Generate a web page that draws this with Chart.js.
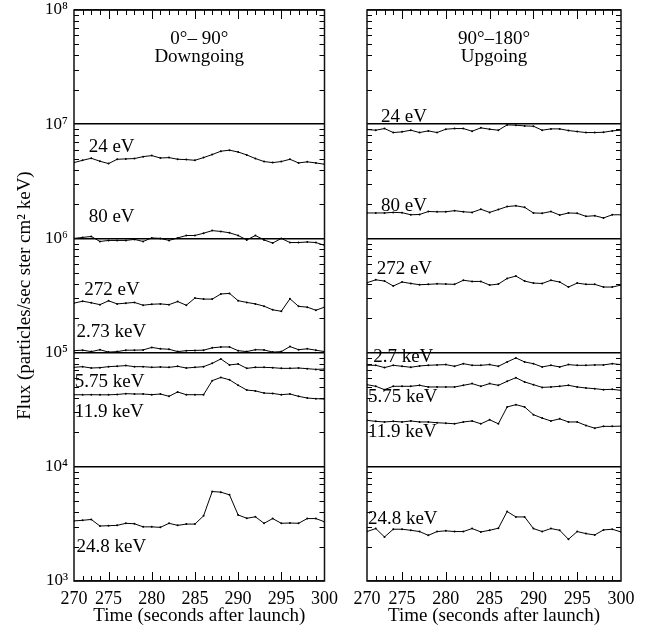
<!DOCTYPE html>
<html>
<head>
<meta charset="utf-8">
<script src="https://cdn.jsdelivr.net/npm/chart.js@4.4.1/dist/chart.umd.min.js"></script>
<style>
html, body { margin: 0; padding: 0; background: #fff; }
#wrap { position: relative; width: 650px; height: 632px; }
canvas { position: absolute; top: 0; }
#left { left: 0; }
#right { left: 345px; }
</style>
</head>
<body>
<div id="wrap">
  <canvas id="left" width="345" height="632" style="width:345px;height:632px"></canvas>
  <canvas id="right" width="305" height="632" style="width:305px;height:632px"></canvas>
</div>
<script>
// data
const times = [271, 272, 273, 274, 275, 276, 277, 278, 279, 280, 281, 282, 283, 284, 285,
               286, 287, 288, 289, 290, 291, 292, 293, 294, 295, 296, 297, 298, 299, 300];

const xTickValues = [271, 275, 280, 285, 290, 295, 300];
const xTickLabels = ['270', '275', '280', '285', '290', '295', '300'];
const yDecades = [1e3, 1e4, 1e5, 1e6, 1e7, 1e8];
const yTickLabels = ['10³', '10⁴', '10⁵', '10⁶', '10⁷', '10⁸'];

// 0-90 downgoing
const down24eV = [4.61e6, 4.83e6, 5.03e6, 4.74e6, 4.52e6, 4.93e6, 4.97e6, 5.0e6, 5.2e6, 5.31e6,
                  5.06e6, 5.1e6, 4.93e6, 4.9e6, 4.83e6, 5.1e6, 5.42e6, 5.8e6, 5.92e6, 5.71e6,
                  5.38e6, 5.0e6, 4.71e6, 4.61e6, 4.71e6, 4.93e6, 4.58e6, 4.68e6, 4.58e6, 4.46e6];
const down80eV = [1.0e6, 1.02e6, 1.04e6, 0.94e6, 0.96e6, 0.96e6, 0.96e6, 0.98e6, 0.94e6, 1.01e6,
                  1.0e6, 0.96e6, 1.01e6, 1.06e6, 1.06e6, 1.11e6, 1.17e6, 1.15e6, 1.12e6, 1.06e6,
                  0.97e6, 1.06e6, 0.97e6, 0.91e6, 1.0e6, 0.92e6, 0.92e6, 0.93e6, 0.92e6, 0.87e6];
const down272eV = [2.71e5, 2.82e5, 2.73e5, 2.63e5, 2.84e5, 2.67e5, 2.71e5, 2.75e5, 2.6e5, 2.65e5,
                   2.67e5, 2.63e5, 2.8e5, 2.6e5, 3.0e5, 2.94e5, 2.94e5, 3.26e5, 3.3e5, 2.85e5,
                   2.75e5, 2.67e5, 2.55e5, 2.37e5, 2.3e5, 2.96e5, 2.54e5, 2.5e5, 2.35e5, 2.5e5];
const down2p73keV = [1.04e5, 1.05e5, 1.02e5, 1.06e5, 1.01e5, 1.02e5, 1.05e5, 1.05e5, 1.055e5, 1.11e5,
                     1.08e5, 1.07e5, 1.02e5, 1.04e5, 1.045e5, 1.05e5, 1.1e5, 1.12e5, 1.12e5, 1.04e5,
                     1.02e5, 1.06e5, 1.055e5, 1.01e5, 1.02e5, 1.13e5, 1.06e5, 1.08e5, 1.05e5, 1.02e5];
const down5p75keV = [7.43e4, 7.53e4, 7.33e4, 7.38e4, 7.53e4, 7.6e4, 7.7e4, 7.53e4, 7.53e4, 7.43e4,
                     7.48e4, 7.43e4, 7.58e4, 7.33e4, 7.43e4, 7.53e4, 8.05e4, 8.8e4, 7.8e4, 7.95e4,
                     7.28e4, 7.43e4, 7.43e4, 7.38e4, 7.28e4, 7.28e4, 7.33e4, 7.23e4, 7.13e4, 7.18e4];
const down11p9keV = [4.28e4, 4.27e4, 4.28e4, 4.27e4, 4.27e4, 4.3e4, 4.37e4, 4.34e4, 4.34e4, 4.28e4,
                     4.34e4, 4.14e4, 4.52e4, 4.28e4, 4.28e4, 4.28e4, 5.68e4, 6.06e4, 5.78e4, 5.18e4,
                     4.7e4, 4.62e4, 4.42e4, 4.39e4, 4.28e4, 4.34e4, 4.14e4, 4.0e4, 3.95e4, 3.92e4];
const down24p8keV = [3.36e3, 3.4e3, 3.46e3, 3.03e3, 3.05e3, 3.07e3, 3.2e3, 3.17e3, 2.98e3, 2.98e3,
                     2.95e3, 3.2e3, 3.07e3, 3.15e3, 3.15e3, 3.72e3, 6.07e3, 6.0e3, 5.68e3, 3.79e3,
                     3.54e3, 3.65e3, 3.2e3, 3.52e3, 3.2e3, 3.22e3, 3.2e3, 3.52e3, 3.52e3, 3.3e3];

// 90-180 upgoing
const up24eV = [8.98e6, 8.86e6, 9.16e6, 8.45e6, 8.57e6, 8.86e6, 8.45e6, 8.74e6, 8.45e6, 9.04e6,
                9.16e6, 9.16e6, 8.68e6, 9.29e6, 9.04e6, 8.86e6, 9.86e6, 9.8e6, 9.66e6, 9.6e6,
                8.86e6, 9.1e6, 9.1e6, 8.8e6, 8.62e6, 8.45e6, 8.45e6, 8.5e6, 8.74e6, 8.86e6];
const up80eV = [1.67e6, 1.67e6, 1.67e6, 1.69e6, 1.68e6, 1.61e6, 1.62e6, 1.72e6, 1.71e6, 1.71e6,
                1.75e6, 1.71e6, 1.69e6, 1.8e6, 1.69e6, 1.79e6, 1.9e6, 1.93e6, 1.87e6, 1.67e6,
                1.66e6, 1.72e6, 1.6e6, 1.67e6, 1.66e6, 1.56e6, 1.58e6, 1.51e6, 1.61e6, 1.61e6];
const up272eV = [4.09e5, 4.34e5, 4.23e5, 3.83e5, 4.15e5, 4.03e5, 3.93e5, 3.96e5, 4.0e5, 3.98e5,
                 3.96e5, 4.3e5, 4.2e5, 4.2e5, 3.9e5, 3.98e5, 4.46e5, 4.68e5, 4.23e5, 4.06e5,
                 4.03e5, 4.3e5, 4.15e5, 3.75e5, 4.06e5, 3.96e5, 3.96e5, 3.75e5, 3.75e5, 3.9e5];
const up2p7keV = [7.74e4, 7.74e4, 7.39e4, 7.74e4, 7.59e4, 7.44e4, 7.64e4, 7.74e4, 7.8e4, 7.85e4,
                  7.59e4, 8.0e4, 7.74e4, 7.74e4, 7.85e4, 7.59e4, 8.28e4, 8.98e4, 8.28e4, 8.0e4,
                  7.49e4, 7.74e4, 7.49e4, 7.85e4, 7.74e4, 7.74e4, 7.8e4, 7.8e4, 8.0e4, 7.85e4];
const up5p75keV = [5.24e4, 5.07e4, 4.74e4, 5.07e4, 5.07e4, 5.07e4, 5.17e4, 5.0e4, 5.0e4, 5.0e4,
                   5.0e4, 5.17e4, 5.35e4, 5.07e4, 5.35e4, 5.17e4, 5.6e4, 6.03e4, 5.53e4, 5.24e4,
                   4.96e4, 5.0e4, 5.07e4, 5.17e4, 5.0e4, 4.9e4, 4.83e4, 4.74e4, 4.77e4, 4.67e4];
const up11p9keV = [2.55e4, 2.5e4, 2.47e4, 2.5e4, 2.47e4, 2.52e4, 2.47e4, 2.47e4, 2.43e4, 2.41e4,
                   2.38e4, 2.47e4, 2.52e4, 2.38e4, 2.58e4, 2.38e4, 3.34e4, 3.5e4, 3.34e4, 2.86e4,
                   2.67e4, 2.52e4, 2.63e4, 2.47e4, 2.47e4, 2.3e4, 2.18e4, 2.26e4, 2.26e4, 2.27e4];
const up24p8keV = [2.71e3, 2.88e3, 2.43e3, 2.84e3, 2.84e3, 2.78e3, 2.71e3, 2.51e3, 2.71e3, 2.75e3,
                   2.71e3, 2.71e3, 2.88e3, 2.69e3, 2.78e3, 2.9e3, 4.06e3, 3.64e3, 3.64e3, 2.88e3,
                   2.71e3, 2.88e3, 2.78e3, 2.32e3, 2.71e3, 2.6e3, 2.53e3, 2.8e3, 2.84e3, 2.69e3];

const downNames = ['24 eV', '80 eV', '272 eV', '2.73 keV', '5.75 keV', '11.9 keV', '24.8 keV'];
const upNames = ['24 eV', '80 eV', '272 eV', '2.7 keV', '5.75 keV', '11.9 keV', '24.8 keV'];

// where the energy labels sit (time, flux)
const downNameAt = [[272.7, 6.3e6], [272.7, 1.53e6], [272.2, 3.5e5], [271.3, 1.51e5],
                    [271.1, 5.5e4], [271.1, 3.0e4], [271.3, 2.0e3]];
const upNameAt = [[272.6, 1.15e7], [272.6, 1.91e6], [272.1, 5.42e5], [271.7, 9.2e4],
                  [271.1, 4.06e4], [271.1, 2.0e4], [271.1, 3.47e3]];

const downTitle = ['0°– 90°', 'Downgoing'];
const upTitle = ['90°–180°', 'Upgoing'];
const titleAt = [5.6e7, 3.9e7];

Chart.defaults.font.family = "'Liberation Serif', 'Times New Roman', serif";
Chart.defaults.color = '#000';

// box, inward ticks and text labels
const panelDecor = {
    id: 'panelDecor',
    afterDatasetsDraw(chart, args, opts) {
        const {ctx, chartArea: a, scales: {x, y}} = chart;
        ctx.save();
        ctx.strokeStyle = '#000';
        ctx.lineWidth = 1;
        ctx.beginPath();
        for (let t = 272; t < 300; t++) {
            const px = Math.round(x.getPixelForValue(t)) + 0.5;
            const len = t % 5 === 0 ? 9 : 5;
            ctx.moveTo(px, a.bottom); ctx.lineTo(px, a.bottom - len);
            ctx.moveTo(px, a.top); ctx.lineTo(px, a.top + len);
        }
        for (let e = 3; e < 8; e++) {
            for (let m = 2; m < 10; m++) {
                const py = Math.round(y.getPixelForValue(m * Math.pow(10, e))) + 0.5;
                ctx.moveTo(a.left, py); ctx.lineTo(a.left + 5, py);
                ctx.moveTo(a.right, py); ctx.lineTo(a.right - 5, py);
            }
        }
        ctx.stroke();

        ctx.lineWidth = 1.5;
        ctx.strokeStyle = '#111';
        ctx.strokeRect(a.left, a.top, a.right - a.left, a.bottom - a.top);

        ctx.fillStyle = '#000';
        ctx.font = "19px 'Liberation Serif', serif";
        ctx.textBaseline = 'middle';
        ctx.textAlign = 'left';
        opts.names.forEach((n, i) => {
            ctx.fillText(n, x.getPixelForValue(opts.nameAt[i][0]), y.getPixelForValue(opts.nameAt[i][1]));
        });
        ctx.textAlign = 'center';
        const cx = (a.left + a.right) / 2;
        opts.title.forEach((t, i) => ctx.fillText(t, cx, y.getPixelForValue(titleAt[i])));
        ctx.restore();
    }
};

function makePanel(id, series, names, nameAt, title, showY, padding) {
    new Chart(document.getElementById(id), {
        type: 'line',
        data: {
            datasets: series.map(vals => ({
                data: vals.map((v, i) => ({x: times[i], y: v})),
                borderColor: '#000',
                borderWidth: 1,
                pointRadius: 1,
                pointBackgroundColor: '#000',
                pointBorderWidth: 0,
                tension: 0
            }))
        },
        options: {
            responsive: false,
            animation: false,
            devicePixelRatio: 1,
            layout: { padding: padding },
            plugins: {
                legend: { display: false },
                tooltip: { enabled: false },
                panelDecor: { names: names, nameAt: nameAt, title: title }
            },
            scales: {
                x: {
                    type: 'linear',
                    min: 271,
                    max: 300,
                    afterBuildTicks: s => { s.ticks = xTickValues.map(v => ({value: v})); },
                    afterFit: s => { s.height = 51; },
                    ticks: {
                        padding: 7,
                        font: { size: 18 },
                        maxRotation: 0,
                        autoSkip: false,
                        callback: (v, i) => xTickLabels[i]
                    },
                    grid: { display: false, drawTicks: false },
                    border: { display: false },
                    title: {
                        display: true,
                        text: 'Time (seconds after launch)',
                        font: { size: 19 },
                        padding: { top: 0, bottom: 5 }
                    }
                },
                y: {
                    type: 'logarithmic',
                    min: 1e3,
                    max: 1e8,
                    afterBuildTicks: s => { s.ticks = yDecades.map(v => ({value: v})); },
                    afterFit: s => {
                        s.width = showY ? 74 : 0;
                        s.paddingTop = 0;
                        s.paddingBottom = 0;
                    },
                    ticks: {
                        display: showY,
                        padding: 6,
                        font: { size: 17 },
                        callback: (v, i) => yTickLabels[i]
                    },
                    grid: { color: '#000', lineWidth: 1.5, drawTicks: false },
                    border: { display: false },
                    title: {
                        display: showY,
                        text: 'Flux (particles/sec ster cm² keV)',
                        font: { size: 19 },
                        padding: { top: 14, bottom: 0 }
                    }
                }
            }
        },
        plugins: [panelDecor]
    });
}

makePanel('left',
    [down24eV, down80eV, down272eV, down2p73keV, down5p75keV, down11p9keV, down24p8keV],
    downNames, downNameAt, downTitle, true,
    { top: 10, left: 0, right: 15, bottom: 0 });

makePanel('right',
    [up24eV, up80eV, up272eV, up2p7keV, up5p75keV, up11p9keV, up24p8keV],
    upNames, upNameAt, upTitle, false,
    { top: 10, left: 22, right: 29, bottom: 0 });
</script>
</body>
</html>
